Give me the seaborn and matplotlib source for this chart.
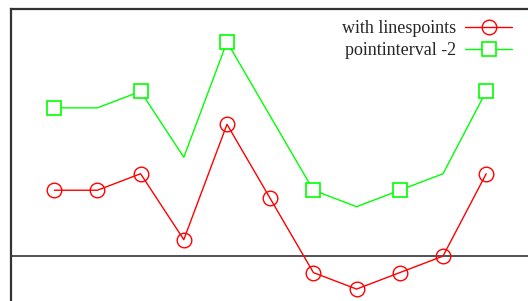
import matplotlib
matplotlib.use('Agg')
import matplotlib.pyplot as plt
import seaborn as sns
import pandas as pd

# data
x_vals = [1, 2, 3, 4, 5, 6, 7, 8, 9, 10, 11]
red_vals = [4.0, 4.0, 5.0, 1.0, 8.0, 3.5, -1.0, -2.0, -1.0, 0.0, 5.0]
green_vals = [9.0, 9.0, 10.0, 6.0, 13.0, 8.5, 4.0, 3.0, 4.0, 5.0, 10.0]
labels = ['with linespoints', 'pointinterval -2']

sns.set_theme(style='white')
plt.rcParams['font.family'] = ['Liberation Serif', 'DejaVu Serif']

df = pd.DataFrame({'x': x_vals, 'red': red_vals, 'green': green_vals})

fig = plt.figure(figsize=(5.28, 3.01), dpi=100)
# axes box runs past the right and bottom edge of the image, as in the reference
ax = fig.add_axes([11 / 528, (301 - 338.5) / 301, (529.4 - 11) / 528, (338.5 - 9) / 301])

sns.lineplot(data=df, x='x', y='red', ax=ax, color='#ff0000', lw=1,
             marker='o', markersize=10.5, markerfacecolor='none',
             markeredgecolor='#ff0000', markeredgewidth=1, label=labels[0])
sns.lineplot(data=df, x='x', y='green', ax=ax, color='#00ff00', lw=1,
             marker='s', markersize=10, markerfacecolor='white',
             markeredgecolor='#00ff00', markeredgewidth=1.2, markevery=2,
             label=labels[1])

ax.axhline(0, color='#333333', lw=1.2, zorder=0)

ax.set_xlim(0, 12)
ax.set_ylim(-5, 15)
ax.set_xticks([])
ax.set_yticks([])
ax.set_xlabel('')
ax.set_ylabel('')
for sp in ax.spines.values():
    sp.set_color('#333333')
    sp.set_linewidth(1.6)

leg = ax.legend(loc='upper right', bbox_to_anchor=(512 / 528, 1 - 20 / 301),
                bbox_transform=fig.transFigure, frameon=False, markerfirst=False,
                fontsize=13, handlelength=2.6, handletextpad=0.5,
                labelspacing=0.3, borderpad=0, borderaxespad=0)

fig.savefig('out.png', dpi=100)
